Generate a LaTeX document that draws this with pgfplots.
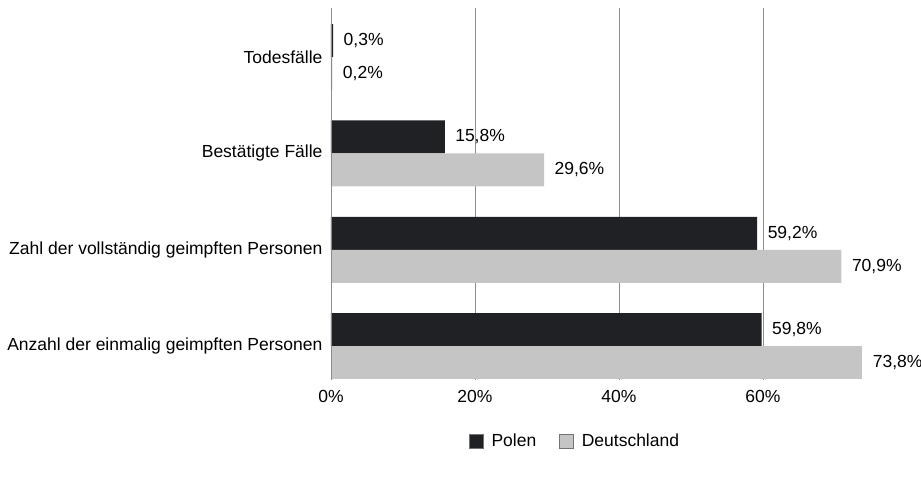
\documentclass[border=0pt]{standalone}
\usepackage{pgfplots}
\pgfplotsset{compat=1.18}
\usepackage{fontspec}
\setmainfont{Liberation Sans}
\definecolor{polen}{HTML}{1F2124}
\definecolor{dtl}{HTML}{C4C5C4}
\definecolor{gridc}{HTML}{8C8C8C}

\begin{document}
\begin{tikzpicture}[font=\fontsize{17.5}{20}\selectfont]
\path[use as bounding box] (-331pt,-104pt) rectangle (590pt,380pt);
\begin{axis}[
    at={(0pt,0pt)}, anchor=south west,
    scale only axis,
    width=540pt, height=372pt,
    xbar, bar width=33pt,
    xmin=0, xmax=75,
    ymin=-0.352, ymax=3.51,
    axis line style={draw=none},
    tick label style={font=\fontsize{17.5}{20}\selectfont},
    xtick={0,20,40,60},
    xticklabel={\pgfmathprintnumber{\tick}\%},
    xticklabel style={yshift=-7pt},
    x tick label style={/pgf/number format/assume math mode=true},
    ytick={0,1,2,3},
    yticklabels={Anzahl der einmalig geimpften Personen, Zahl der vollständig geimpften Personen, Bestätigte Fälle, Todesfälle},
    yticklabel style={xshift=-5pt},
    major tick length=0pt,
    xmajorgrids, grid style={gridc, line width=0.8pt},
    clip=false,
    point meta=x,
    nodes near coords={\pgfmathprintnumber[fixed,fixed zerofill,precision=1,use comma]{\pgfplotspointmeta}\%},
    nodes near coords style={anchor=west, xshift=7pt, font=\fontsize{17.5}{20}\selectfont, /pgf/number format/assume math mode=true},
    legend columns=2,
    legend style={at={(axis description cs:0.452,-0.165)}, anchor=center, draw=none,
        font=\fontsize{17.5}{20}\selectfont,
        /tikz/every odd column/.append style={column sep=6pt},
        /tikz/every even column/.append style={column sep=21pt}},
    legend image code/.code={\draw[#1, draw=black!55, line width=0.5pt] (0pt,-7pt) rectangle (14pt,7pt);},
]
\addplot[fill=polen, draw=none, bar shift=16.5pt] coordinates {(59.8,0) (59.2,1) (15.8,2) (0.3,3)};
\addlegendentry{Polen}
\addplot[fill=dtl, draw=none, bar shift=-16.5pt] coordinates {(70.9,1) (29.6,2) (0.2,3)};
\addlegendentry{Deutschland}
% the longest bar's label sits closer to the bar, as in the source
\addplot[fill=dtl, draw=none, bar shift=-16.5pt, forget plot,
    nodes near coords style={xshift=0pt}] coordinates {(73.8,0)};
\draw[gridc, line width=0.8pt] (axis cs:0,-0.352) -- (axis cs:0,3.51);
\end{axis}
\end{tikzpicture}
\end{document}
